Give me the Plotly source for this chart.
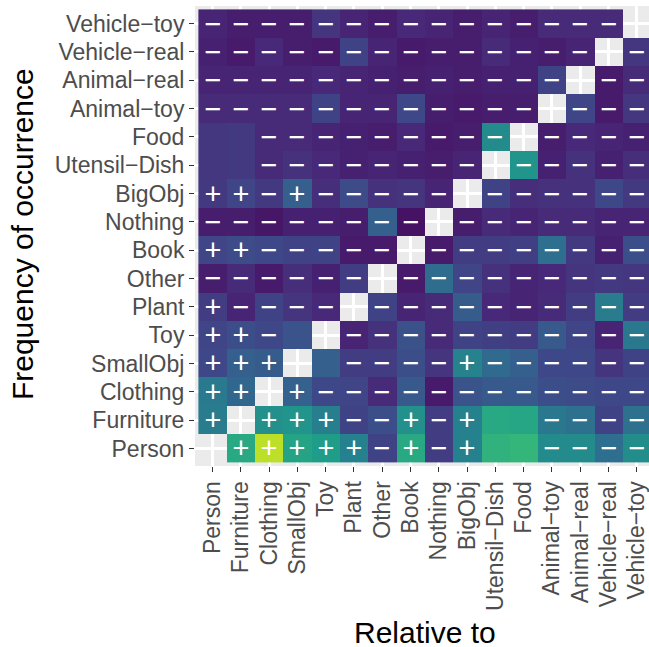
import plotly.graph_objects as go

categories = ["Person", "Furniture", "Clothing", "SmallObj", "Toy", "Plant", "Other", "Book",
              "Nothing", "BigObj", "Utensil-Dish", "Food", "Animal-toy", "Animal-real",
              "Vehicle-real", "Vehicle-toy"]

# values per row (row = "Frequency of occurrence" category), columns in `categories` order
# None = diagonal (no value)
v_person       = [None, 0.60, 0.90, 0.58, 0.55, 0.44, 0.20, 0.60, 0.18, 0.44, 0.64, 0.66, 0.48, 0.48, 0.36, 0.49]
v_furniture    = [0.42, None, 0.50, 0.52, 0.43, 0.20, 0.24, 0.50, 0.18, 0.44, 0.60, 0.59, 0.40, 0.37, 0.20, 0.37]
v_clothing     = [0.41, 0.33, None, 0.31, 0.22, 0.21, 0.12, 0.28, 0.07, 0.26, 0.28, 0.28, 0.24, 0.23, 0.22, 0.22]
v_smallobj     = [0.22, 0.30, 0.29, None, 0.30, 0.18, 0.18, 0.24, 0.15, 0.45, 0.34, 0.30, 0.22, 0.22, 0.15, 0.20]
v_toy          = [0.21, 0.24, 0.22, 0.26, None, 0.10, 0.14, 0.25, 0.12, 0.20, 0.19, 0.18, 0.28, 0.21, 0.10, 0.40]
v_plant        = [0.18, 0.10, 0.20, 0.15, 0.11, None, 0.20, 0.10, 0.12, 0.29, 0.11, 0.10, 0.12, 0.18, 0.42, 0.18]
v_other        = [0.08, 0.12, 0.07, 0.13, 0.09, 0.18, None, 0.07, 0.35, 0.21, 0.14, 0.10, 0.11, 0.15, 0.17, 0.16]
v_book         = [0.21, 0.23, 0.22, 0.20, 0.20, 0.07, 0.07, None, 0.07, 0.18, 0.18, 0.19, 0.36, 0.17, 0.09, 0.24]
v_nothing      = [0.08, 0.08, 0.06, 0.09, 0.09, 0.08, 0.30, 0.05, None, 0.08, 0.12, 0.10, 0.12, 0.12, 0.10, 0.10]
v_bigobj       = [0.17, 0.21, 0.17, 0.30, 0.13, 0.23, 0.14, 0.15, 0.10, None, 0.20, 0.13, 0.14, 0.14, 0.22, 0.17]
v_utensil      = [0.16, 0.17, 0.12, 0.14, 0.11, 0.09, 0.10, 0.09, 0.08, 0.10, None, 0.52, 0.09, 0.14, 0.09, 0.13]
v_food         = [0.16, 0.17, 0.12, 0.12, 0.10, 0.09, 0.08, 0.11, 0.07, 0.08, 0.48, None, 0.08, 0.11, 0.10, 0.09]
v_animal_toy   = [0.12, 0.12, 0.12, 0.12, 0.20, 0.10, 0.10, 0.22, 0.08, 0.07, 0.08, 0.08, None, 0.21, 0.07, 0.16]
v_animal_real  = [0.10, 0.10, 0.10, 0.10, 0.11, 0.10, 0.09, 0.08, 0.09, 0.08, 0.09, 0.09, 0.20, None, 0.07, 0.12]
v_vehicle_real = [0.09, 0.07, 0.11, 0.08, 0.07, 0.20, 0.10, 0.07, 0.08, 0.08, 0.12, 0.09, 0.08, 0.10, None, 0.16]
v_vehicle_toy  = [0.10, 0.08, 0.08, 0.08, 0.15, 0.10, 0.08, 0.11, 0.10, 0.08, 0.10, 0.08, 0.12, 0.12, 0.12, None]

# sign per cell: + / - / 0 (no mark) / x (diagonal)
s_person       = "x+++++-+-+00----"
s_furniture    = "+x+++--+-+00----"
s_clothing     = "++x+------------"
s_smallobj     = "+++x0----+------"
s_toy          = "++-0x-----------"
s_plant        = "+----x----------"
s_other        = "------x---------"
s_book         = "++-----x--------"
s_nothing      = "--------x-------"
s_bigobj       = "++-+-----x------"
s_utensil      = "00--------x-----"
s_food         = "00---------x----"
s_animal_toy   = "------------x---"
s_animal_real  = "-------------x--"
s_vehicle_real = "--------------x-"
s_vehicle_toy  = "---------------x"

values = [v_person, v_furniture, v_clothing, v_smallobj, v_toy, v_plant, v_other, v_book,
          v_nothing, v_bigobj, v_utensil, v_food, v_animal_toy, v_animal_real,
          v_vehicle_real, v_vehicle_toy]
signs = [s_person, s_furniture, s_clothing, s_smallobj, s_toy, s_plant, s_other, s_book,
         s_nothing, s_bigobj, s_utensil, s_food, s_animal_toy, s_animal_real,
         s_vehicle_real, s_vehicle_toy]

sym = {"+": "+", "-": "\u2212", "0": "", "x": ""}
text = [[sym[c] for c in row] for row in signs]
labels = [c.replace("-", "\u2212") for c in categories]

fig = go.Figure(go.Heatmap(
    x=labels, y=labels, z=values, text=text,
    texttemplate="%{text}",
    textfont=dict(family="Liberation Sans", size=29, color="white"),
    colorscale="Viridis", zmin=0, zmax=1, showscale=False, hoverinfo="skip",
    xgap=0, ygap=0,
))

axis_common = dict(
    type="category", categoryorder="array", categoryarray=labels,
    tickmode="array", tickvals=labels, ticktext=labels,
    showgrid=True, gridcolor="white", gridwidth=2.6, zeroline=False, showline=False,
    ticks="outside", ticklen=5, tickwidth=1.4, tickcolor="#333333",
    tickfont=dict(family="Liberation Sans", size=23, color="#4D4D4D"),
)

L, R, T, B = 194.8, 0, 6.4, 181.2
fig.update_layout(
    width=649, height=647, autosize=False,
    margin=dict(l=L, r=R, t=T, b=B, pad=0),
    paper_bgcolor="white", plot_bgcolor="#EBEBEB",
    xaxis=dict(axis_common, range=[-0.62, 15.43], tickangle=-90),
    yaxis=dict(axis_common, range=[-0.62, 15.62]),
    font=dict(family="Liberation Sans"),
    annotations=[
        dict(text="Relative to", xref="paper", yref="paper", x=0.5, y=0,
             xshift=(424.5 - (L + (649 - L - R) / 2)), yshift=-(632 - (647 - B)),
             showarrow=False, font=dict(size=30, color="black"), xanchor="center", yanchor="middle"),
        dict(text="Frequency of occurrence", xref="paper", yref="paper", x=0, y=0.5,
             xshift=-(L - 23), yshift=(6.4 + (647 - T - B) / 2) - 234,
             showarrow=False, textangle=-90,
             font=dict(size=30, color="black"), xanchor="center", yanchor="middle"),
    ],
)

fig.write_html("out.html", config={"displayModeBar": False},
               post_script="document.body.style.margin='0';document.body.style.overflow='hidden';")
